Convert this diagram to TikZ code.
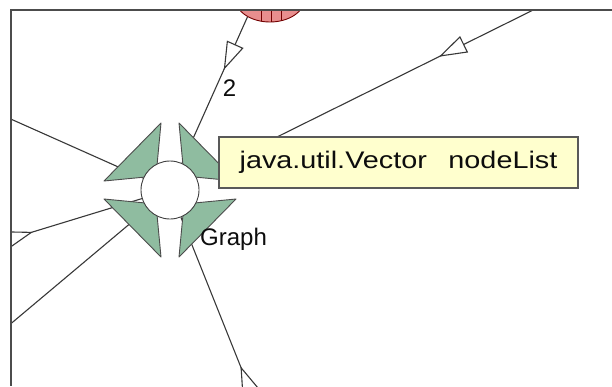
\documentclass[tikz,border=0pt]{standalone}
\usepackage{fontspec}
\usepackage{graphicx}
\setmainfont{Liberation Sans}
\usetikzlibrary{arrows.meta,decorations.markings,shapes.geometric,backgrounds,positioning}

\definecolor{edgegray}{RGB}{56,56,56}
\definecolor{tipyellow}{RGB}{255,255,206}
\definecolor{portgreen}{RGB}{143,188,160}
\definecolor{vecred}{RGB}{232,142,142}

\begin{document}
\begin{tikzpicture}[x=1pt,y=-1pt,
    >={Triangle[length=28pt,width=18pt,fill=white]},
    edge/.style={draw=edgegray,line width=1.1pt},
    inh/.style={postaction={decorate,decoration={markings,mark=at position #1 with {\arrow{>}}}}},
    port/.style={draw=black!70,fill=portgreen,line width=0.9pt,line join=round},
    lbl/.style={font=\fontsize{24}{28}\selectfont,inner sep=0pt,text=black!95}]
  \useasboundingbox (0,0) rectangle (612,386);
  % four ports round the class
  \foreach \sx/\sy in {1/1,-1/1,1/-1,-1/-1}
    \draw[port,shift={(170,190)},xscale=\sx,yscale=\sy] (-9,-67) -- (-66,-9) -- (-14,-14) -- cycle;
  \node[circle,draw=black!75,fill=white,minimum size=58pt,inner sep=0pt,line width=0.9pt] (graph) at (170,190) {};
  \node[lbl,anchor=base west] (graphlbl) at (200,245) {Graph};
  \begin{scope}
    \clip (11,10) rectangle (612,386);
    \node[ellipse,draw=red!45!black,fill=vecred,minimum width=70pt,minimum height=48pt,line width=0.9pt,
      path picture={\foreach \dx in {-9,1,11}
        \draw[red!45!black] ([xshift=\dx pt]path picture bounding box.north) -- ([xshift=\dx pt]path picture bounding box.south);}] (vec) at (270,-2) {};
  \end{scope}
  \node[draw=black!65,fill=tipyellow,line width=1.2pt,minimum width=359pt,minimum height=51pt,inner sep=0pt,lbl] (tip) at (398.5,162.5)
    {\scalebox{1.2}[1]{java.util.Vector\hspace{18pt}nodeList}};
  \coordinate (ne) at (620,-33);
  \coordinate (w1) at (-5,112);
  \coordinate (w2) at (-10,245);
  \coordinate (w3) at (-5,337);
  \coordinate (s) at (262,420);
  \begin{pgfonlayer}{background}
    \fill[white] (0,0) rectangle (612,386);
    \clip (11,10) rectangle (612,386);
    \draw[edge,inh=58pt] (vec.220) -- node[lbl,pos=0.49,right=7pt] (mult) {2} (graph);
    \draw[edge,inh=202pt] (ne) -- (graph);
    \draw[edge] (w1) -- (graph);
    \draw[edge,inh=45pt] (w2) -- (graph);
    \draw[edge] (w3) -- (graph);
    \draw[edge,inh=58pt] (s) -- (graph);
  \end{pgfonlayer}
  % window frame
  \draw[black!70,line width=1.6pt] (612,10) -- (11,10) -- (11,386);
\end{tikzpicture}
\end{document}
